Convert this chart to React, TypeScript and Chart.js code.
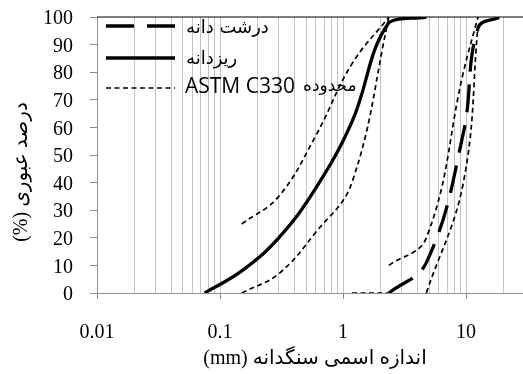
import React, { useEffect, useRef } from "react";
import { Chart, registerables } from "chart.js";

Chart.register(...registerables);

// Sieve sizes (mm) and percent passing for each curve
const fineSizes = [0.075, 0.15, 0.3, 0.6, 1.18, 2.36, 4.75];
const finePassing = [0, 8, 20, 38, 62, 98, 100];

const coarseSizes = [2.36, 4.75, 9.5, 12.5, 19];
const coarsePassing = [0, 11, 58, 96, 100];

const fineUpperSizes = [0.15, 0.3, 0.6, 1.18, 2.36];
const fineUpperPassing = [25, 35, 57, 83, 100];

const fineLowerSizes = [0.15, 0.3, 0.6, 1.18, 2.36];
const fineLowerPassing = [0, 7, 22, 40, 100];

const coarseUpperSizes = [2.36, 4.75, 9.5, 12.5];
const coarseUpperPassing = [10, 20, 80, 100];

const coarseLowerSizes = [4.75, 9.5, 12.5];
const coarseLowerPassing = [0, 40, 97];

const coarseLowerBaseSizes = [1.18, 2.36];
const coarseLowerBasePassing = [0, 0];

// Axis settings
const xMin = 0.01;
const xMax = 29;
const xLabelledTicks = [0.01, 0.1, 1, 10];
const xGridMultipliers = [1, 2, 3, 4, 5, 6, 7, 8, 9];
const xGridDecades = [-2, -1, 0, 1];
const yMin = 0;
const yMax = 100;
const yTicks = [0, 10, 20, 30, 40, 50, 60, 70, 80, 90, 100];

// Text
const xTitleUnit = "(mm)";
const xTitleText = "اندازه اسمی سنگدانه";
const yTitleText = "(%) درصد عبوری";
const legendCoarse = "درشت دانه";
const legendFine = "ریزدانه";
const legendLimitLatin = "ASTM C330";
const legendLimitWord = "محدوده";

const gridGray = "#c3c3c3";
const axisGray = "#8e8e8e";
const serif = "'Liberation Serif', 'DejaVu Sans', serif";
const arabicFont = "'DejaVu Sans', sans-serif";

const toPoints = (xs: number[], ys: number[]) => xs.map((x, i) => ({ x, y: ys[i] }));

const gridValues: number[] = [];
xGridDecades.forEach((e) => {
  xGridMultipliers.forEach((m) => {
    const v = Number((m * Math.pow(10, e)).toPrecision(6));
    if (v <= xMax) gridValues.push(v);
  });
});

const isLabelled = (v: number) => xLabelledTicks.some((t) => Math.abs(t - v) < 1e-9);

const coarseDash = [28, 13];
const limitDash = [5, 3.5];
const curveTension = 0.4;

const overlayPlugin = {
  id: "overlay",
  afterDraw(chart: any) {
    const { ctx, chartArea } = chart;
    ctx.save();
    // top frame line
    ctx.strokeStyle = "#000";
    ctx.lineWidth = 1.2;
    ctx.beginPath();
    ctx.moveTo(chartArea.left, chartArea.top);
    ctx.lineTo(chartArea.right, chartArea.top);
    ctx.stroke();

    // legend
    const x0 = 106;
    const x1 = 175;
    const tx = 186;
    const rows = [
      { y: 26, dash: coarseDash, w: 3.3 },
      { y: 58, dash: [] as number[], w: 3.3 },
      { y: 88, dash: limitDash, w: 1.7 },
    ];
    rows.forEach((r) => {
      ctx.setLineDash(r.dash);
      ctx.lineWidth = r.w;
      ctx.strokeStyle = "#000";
      ctx.beginPath();
      ctx.moveTo(x0, r.y);
      ctx.lineTo(x1, r.y);
      ctx.stroke();
    });
    ctx.setLineDash([]);
    ctx.fillStyle = "#000";
    ctx.textAlign = "left";
    ctx.textBaseline = "middle";
    ctx.font = `18px ${arabicFont}`;
    ctx.fillText(legendCoarse, tx, 28);
    ctx.fillText(legendFine, tx, 59);
    ctx.font = "21px 'Open Sans', sans-serif";
    ctx.fillText(legendLimitLatin, tx - 1, 87);
    ctx.font = `17px ${arabicFont}`;
    ctx.fillText(legendLimitWord, 303, 87);

    // axis titles
    ctx.font = `20px ${serif}`;
    ctx.textAlign = "center";
    ctx.fillText(`${xTitleUnit} ${xTitleText}`, 315, 359);
    ctx.translate(22, 172);
    ctx.rotate(-Math.PI / 2);
    ctx.fillText(yTitleText, 0, 0);
    ctx.restore();
  },
};

export default function App() {
  const canvasRef = useRef<HTMLCanvasElement | null>(null);

  useEffect(() => {
    if (!canvasRef.current) return;
    const limitStyle = {
      borderColor: "#000",
      borderWidth: 1.7,
      borderDash: limitDash,
      pointRadius: 0,
      tension: curveTension,
      fill: false,
    };
    const chart = new Chart(canvasRef.current, {
      type: "line",
      data: {
        datasets: [
          {
            label: legendCoarse,
            data: toPoints(coarseSizes, coarsePassing),
            borderColor: "#000",
            borderWidth: 3.3,
            borderDash: coarseDash,
            pointRadius: 0,
            tension: curveTension,
          },
          {
            label: legendFine,
            data: toPoints(fineSizes, finePassing),
            borderColor: "#000",
            borderWidth: 3.3,
            pointRadius: 0,
            tension: curveTension,
          },
          { label: "fineUpper", data: toPoints(fineUpperSizes, fineUpperPassing), ...limitStyle },
          { label: "fineLower", data: toPoints(fineLowerSizes, fineLowerPassing), ...limitStyle },
          { label: "coarseUpper", data: toPoints(coarseUpperSizes, coarseUpperPassing), ...limitStyle },
          { label: "coarseLower", data: toPoints(coarseLowerSizes, coarseLowerPassing), ...limitStyle },
          { label: "coarseLowerBase", data: toPoints(coarseLowerBaseSizes, coarseLowerBasePassing), ...limitStyle },
        ],
      },
      options: {
        responsive: false,
        animation: false,
        devicePixelRatio: 1,
        layout: { padding: { top: 17, right: 0, left: 0, bottom: 0 } },
        plugins: { legend: { display: false }, tooltip: { enabled: false } },
        scales: {
          x: {
            type: "logarithmic",
            min: xMin,
            max: xMax,
            afterBuildTicks: (scale: any) => {
              scale.ticks = gridValues.map((v) => ({ value: v }));
            },
            afterFit: (scale: any) => {
              scale.height = 81;
              scale.paddingLeft = 0;
              scale.paddingRight = 0;
            },
            border: { display: true, color: axisGray, width: 1 },
            grid: {
              display: true,
              drawOnChartArea: true,
              drawTicks: true,
              tickLength: 6,
              color: gridGray,
              lineWidth: 1,
              tickColor: (ctx: any) => (ctx.tick && isLabelled(ctx.tick.value) ? axisGray : "rgba(0,0,0,0)"),
            },
            ticks: {
              autoSkip: false,
              maxRotation: 0,
              minRotation: 0,
              padding: 22,
              color: "#000",
              font: { family: serif, size: 20 },
              callback: (value: any) => (isLabelled(Number(value)) ? String(Number(value)) : ""),
            },
          },
          y: {
            type: "linear",
            min: yMin,
            max: yMax,
            afterBuildTicks: (scale: any) => {
              scale.ticks = yTicks.map((v) => ({ value: v }));
            },
            afterFit: (scale: any) => {
              scale.width = 97;
              scale.paddingTop = 0;
              scale.paddingBottom = 0;
            },
            border: { display: true, color: axisGray, width: 1 },
            grid: {
              drawOnChartArea: false,
              drawTicks: true,
              tickLength: 7,
              tickColor: axisGray,
            },
            ticks: {
              autoSkip: false,
              padding: 17,
              labelOffset: 2,
              color: "#000",
              font: { family: serif, size: 20 },
            },
          },
        },
      },
      plugins: [overlayPlugin],
    });
    return () => chart.destroy();
  }, []);

  return (
    <div style={{ position: "absolute", left: 0, top: 0, width: 523, height: 374, background: "#fff" }}>
      <canvas ref={canvasRef} width={523} height={374} />
    </div>
  );
}
